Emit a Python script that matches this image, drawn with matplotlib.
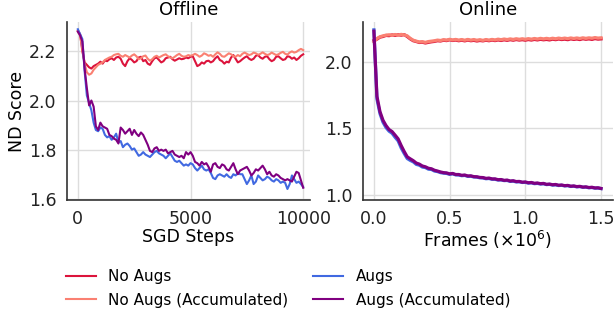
import numpy as np
import matplotlib
matplotlib.use('Agg')
import matplotlib.pyplot as plt

# offline: SGD steps, every 100 steps
offline_steps = np.arange(0, 10001, 100)

no_augs_off = [2.285, 2.27, 2.20, 2.155, 2.145, 2.135, 2.13, 2.14, 2.145, 2.15,
               2.158, 2.15, 2.163, 2.16, 2.168, 2.172, 2.165, 2.175, 2.178, 2.17,
               2.15, 2.14, 2.16, 2.172, 2.165, 2.155, 2.16, 2.175, 2.178, 2.16,
               2.165, 2.15, 2.145, 2.16, 2.172, 2.175, 2.165, 2.155, 2.16, 2.172,
               2.175, 2.178, 2.168, 2.162, 2.167, 2.172, 2.168, 2.17, 2.175, 2.172,
               2.178, 2.18, 2.16, 2.14, 2.145, 2.155, 2.15, 2.16, 2.162, 2.155,
               2.16, 2.172, 2.18, 2.165, 2.16, 2.15, 2.158, 2.155, 2.175, 2.185,
               2.17, 2.155, 2.16, 2.168, 2.175, 2.18, 2.17, 2.165, 2.17, 2.182,
               2.185, 2.175, 2.17, 2.178, 2.18, 2.168, 2.16, 2.165, 2.178, 2.18,
               2.172, 2.165, 2.168, 2.18, 2.178, 2.17, 2.175, 2.165, 2.172, 2.182,
               2.188]

no_augs_acc_off = [2.28, 2.265, 2.21, 2.15, 2.115, 2.105, 2.11, 2.125, 2.135, 2.145,
                   2.15, 2.155, 2.165, 2.17, 2.175, 2.178, 2.185, 2.188, 2.19, 2.182,
                   2.178, 2.185, 2.18, 2.175, 2.183, 2.188, 2.18, 2.168, 2.172, 2.18,
                   2.183, 2.17, 2.162, 2.168, 2.178, 2.182, 2.175, 2.18, 2.185, 2.188,
                   2.18, 2.175, 2.172, 2.178, 2.185, 2.19, 2.182, 2.178, 2.18, 2.185,
                   2.182, 2.185, 2.19, 2.185, 2.178, 2.183, 2.192, 2.188, 2.182, 2.185,
                   2.178, 2.188, 2.196, 2.19, 2.18, 2.178, 2.185, 2.192, 2.188, 2.18,
                   2.178, 2.185, 2.18, 2.19, 2.195, 2.19, 2.185, 2.188, 2.195, 2.192,
                   2.186, 2.19, 2.196, 2.19, 2.185, 2.188, 2.195, 2.19, 2.185, 2.188,
                   2.194, 2.198, 2.19, 2.187, 2.195, 2.2, 2.195, 2.198, 2.205, 2.21,
                   2.205]

augs_off = [2.29, 2.27, 2.25, 2.12, 2.02, 1.99, 1.96, 1.91, 1.88, 1.875,
            1.89, 1.885, 1.86, 1.85, 1.855, 1.84, 1.85, 1.865, 1.83, 1.835,
            1.81, 1.82, 1.825, 1.815, 1.80, 1.805, 1.79, 1.775, 1.78, 1.79,
            1.78, 1.775, 1.77, 1.78, 1.79, 1.795, 1.785, 1.78, 1.775, 1.765,
            1.775, 1.785, 1.77, 1.755, 1.75, 1.755, 1.745, 1.735, 1.74, 1.735,
            1.745, 1.74, 1.725, 1.715, 1.725, 1.735, 1.72, 1.715, 1.72, 1.705,
            1.685, 1.68, 1.695, 1.70, 1.695, 1.69, 1.70, 1.69, 1.685, 1.70,
            1.695, 1.705, 1.70, 1.70, 1.68, 1.66, 1.675, 1.695, 1.66, 1.67,
            1.695, 1.685, 1.675, 1.68, 1.69, 1.685, 1.675, 1.67, 1.68, 1.675,
            1.665, 1.67, 1.665, 1.64, 1.66, 1.695, 1.68, 1.665, 1.67, 1.66,
            1.648]

augs_acc_off = [2.28, 2.265, 2.24, 2.13, 2.05, 1.98, 2.0, 1.975, 1.895, 1.88,
                1.91, 1.895, 1.89, 1.885, 1.86, 1.855, 1.845, 1.84, 1.825, 1.89,
                1.88, 1.865, 1.875, 1.885, 1.86, 1.88, 1.865, 1.855, 1.87, 1.86,
                1.84, 1.82, 1.795, 1.79, 1.805, 1.81, 1.795, 1.80, 1.795, 1.80,
                1.785, 1.79, 1.795, 1.78, 1.775, 1.77, 1.775, 1.765, 1.79, 1.78,
                1.79, 1.775, 1.75, 1.745, 1.735, 1.75, 1.74, 1.745, 1.73, 1.71,
                1.74, 1.745, 1.73, 1.725, 1.74, 1.735, 1.72, 1.715, 1.73, 1.745,
                1.72, 1.70, 1.715, 1.72, 1.725, 1.73, 1.715, 1.695, 1.705, 1.72,
                1.715, 1.725, 1.735, 1.72, 1.70, 1.71, 1.695, 1.69, 1.70, 1.695,
                1.685, 1.68, 1.675, 1.68, 1.675, 1.67, 1.69, 1.71, 1.705, 1.675,
                1.645]

# online: frames (x1e6), every 0.02
online_frames = np.arange(0, 1.501, 0.02)

no_augs_on = [2.16, 2.17, 2.185, 2.19, 2.198, 2.196, 2.202, 2.198, 2.203, 2.2,
              2.204, 2.19, 2.172, 2.158, 2.152, 2.145, 2.147, 2.141, 2.146, 2.15,
              2.153, 2.158, 2.156, 2.162, 2.159, 2.165, 2.16, 2.163, 2.158, 2.162,
              2.157, 2.163, 2.158, 2.161, 2.156, 2.16, 2.157, 2.162, 2.158, 2.163,
              2.159, 2.164, 2.16, 2.165, 2.161, 2.166, 2.162, 2.167, 2.163, 2.166,
              2.162, 2.167, 2.163, 2.168, 2.164, 2.169, 2.165, 2.168, 2.164, 2.17,
              2.166, 2.171, 2.167, 2.17, 2.166, 2.172, 2.168, 2.171, 2.167, 2.173,
              2.169, 2.172, 2.168, 2.174, 2.17, 2.172]

no_augs_acc_on = [2.15, 2.175, 2.188, 2.195, 2.2, 2.203, 2.199, 2.205, 2.2, 2.206,
                  2.202, 2.195, 2.176, 2.162, 2.155, 2.149, 2.151, 2.146, 2.152, 2.155,
                  2.158, 2.163, 2.16, 2.166, 2.163, 2.169, 2.164, 2.168, 2.163, 2.167,
                  2.162, 2.168, 2.163, 2.167, 2.162, 2.166, 2.161, 2.167, 2.163, 2.168,
                  2.164, 2.17, 2.166, 2.171, 2.167, 2.172, 2.168, 2.173, 2.169, 2.173,
                  2.169, 2.174, 2.17, 2.175, 2.171, 2.176, 2.172, 2.176, 2.172, 2.177,
                  2.173, 2.178, 2.174, 2.178, 2.174, 2.179, 2.175, 2.179, 2.175, 2.18,
                  2.176, 2.18, 2.177, 2.182, 2.178, 2.18]

augs_on = [2.24, 1.72, 1.61, 1.545, 1.505, 1.478, 1.462, 1.432, 1.405, 1.352,
           1.31, 1.272, 1.258, 1.247, 1.228, 1.222, 1.208, 1.204, 1.192, 1.19,
           1.178, 1.174, 1.166, 1.162, 1.16, 1.153, 1.157, 1.149, 1.148, 1.143,
           1.145, 1.138, 1.139, 1.133, 1.132, 1.127, 1.126, 1.12, 1.122, 1.116,
           1.116, 1.11, 1.111, 1.106, 1.107, 1.1, 1.102, 1.096, 1.097, 1.092,
           1.093, 1.087, 1.089, 1.083, 1.085, 1.08, 1.082, 1.076, 1.078, 1.072,
           1.074, 1.069, 1.071, 1.066, 1.068, 1.062, 1.064, 1.059, 1.061, 1.056,
           1.057, 1.052, 1.054, 1.049, 1.05, 1.046]

augs_acc_on = [2.23, 1.74, 1.625, 1.56, 1.52, 1.49, 1.475, 1.448, 1.42, 1.37,
               1.325, 1.285, 1.27, 1.256, 1.238, 1.23, 1.216, 1.21, 1.199, 1.195,
               1.184, 1.178, 1.171, 1.166, 1.164, 1.157, 1.16, 1.152, 1.152, 1.146,
               1.148, 1.141, 1.142, 1.136, 1.135, 1.13, 1.129, 1.123, 1.125, 1.119,
               1.119, 1.113, 1.114, 1.108, 1.11, 1.103, 1.105, 1.099, 1.1, 1.094,
               1.096, 1.09, 1.092, 1.086, 1.088, 1.083, 1.085, 1.078, 1.08, 1.075,
               1.077, 1.071, 1.073, 1.068, 1.07, 1.064, 1.066, 1.061, 1.063, 1.057,
               1.059, 1.054, 1.056, 1.051, 1.052, 1.047]

labels = ['No Augs', 'No Augs (Accumulated)', 'Augs', 'Augs (Accumulated)']
colors = ['#DC143C', '#FA8072', '#4169E1', '#800080']

plt.rcParams['font.family'] = 'DejaVu Sans'

fig = plt.figure(figsize=(6.15, 3.17), dpi=100)
ax1 = fig.add_axes([0.109, 0.369, 0.395, 0.562])
ax2 = fig.add_axes([0.590, 0.369, 0.407, 0.562])

for ys, c, lab in zip([no_augs_off, no_augs_acc_off, augs_off, augs_acc_off], colors, labels):
    ax1.plot(offline_steps, ys, color=c, lw=1.5, label=lab)
for ys, c in zip([no_augs_on, no_augs_acc_on, augs_on, augs_acc_on], colors):
    ax2.plot(online_frames, ys, color=c, lw=2.3)

ax1.set_xlim(-480, 10300)
ax1.set_ylim(1.595, 2.32)
ax1.set_xticks([0, 5000, 10000])
ax1.set_yticks([1.6, 1.8, 2.0, 2.2])
ax1.set_title('Offline', fontsize=13, pad=5)
ax1.set_xlabel('SGD Steps', fontsize=12.5, labelpad=0)
ax1.set_ylabel('ND Score', fontsize=12.5, labelpad=2)

ax2.set_xlim(-0.073, 1.58)
ax2.set_ylim(0.96, 2.30)
ax2.set_xticks([0.0, 0.5, 1.0, 1.5])
ax2.set_yticks([1.0, 1.5, 2.0])
ax2.set_title('Online', fontsize=13, pad=5)
ax2.set_xlabel(r'Frames ($\times 10^6$)', fontsize=12.5, labelpad=0)

for ax in (ax1, ax2):
    ax.grid(True, color='#dddddd', lw=1.0)
    ax.set_axisbelow(True)
    ax.spines['top'].set_visible(False)
    ax.spines['right'].set_visible(False)
    ax.spines['left'].set_color('#333333')
    ax.spines['bottom'].set_color('#333333')
    ax.spines['left'].set_linewidth(1.2)
    ax.spines['bottom'].set_linewidth(1.2)
    ax.tick_params(length=0, labelsize=12.5, pad=7.5, colors='#222222')

handles, labs = ax1.get_legend_handles_labels()
fig.legend(handles, labs, ncol=2, loc='center', bbox_to_anchor=(0.468, 0.09),
           frameon=False, fontsize=11, handlelength=2.0, columnspacing=1.6,
           labelspacing=0.55)

plt.savefig('out.png', dpi=100)
